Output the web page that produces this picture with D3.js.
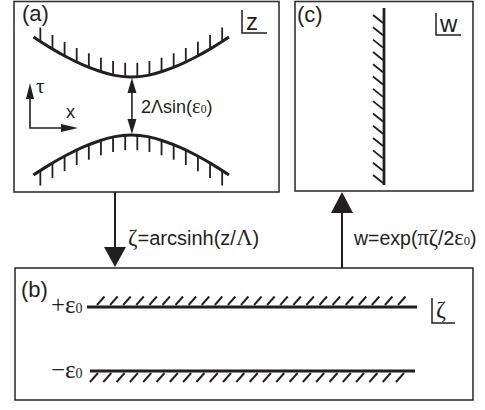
<!DOCTYPE html>
<html><head><meta charset="utf-8">
<script src="https://cdn.jsdelivr.net/npm/d3@7"></script>
<style>body{margin:0;background:#fff}svg{display:block}</style>
</head><body>
<script>
// ---- data ----
const panelLabels = ["(a)", "(b)", "(c)"];
const planeLabels = ["z", "ζ", "w"];
const mapLabels = [
  [["ζ","serif"],["=arcsinh(z/","sans"],["Λ","serif"],[")","sans"]],
  [["w=exp(","sans"],["πζ","serif"],["/2","sans"],["ε","serif"],["0","sub"],[")","sans"]]
];
const gapLabel = [["2Λsin(","sans"],["ε","serif"],["0","sub"],[")","sans"]];
// upper boundary curve in z-plane (x, τ)
const upperCurve = [[-1,1],[-0.83,0.846],[-0.66,0.71],[-0.5,0.60],[-0.33,0.507],[-0.17,0.444],[0,0.42],
                    [0.17,0.444],[0.33,0.507],[0.5,0.60],[0.66,0.71],[0.83,0.846],[1,1]];
const lowerCurve = upperCurve.map(d => [d[0], -d[1]]);
const curveTickCount = [16, 16];
const stripLevels = [1, -1];           // +ε0, -ε0
const stripLabels = ["+", "−"];
const stripHatchCount = [24, 24];
const wallHatchCount = 14;

const W = 485, H = 410;
const svg = d3.select("body").append("svg").attr("width", W).attr("height", H);
const ink = "#231f20", boxInk = "#333";
const SANS = "'Liberation Sans', Arial, sans-serif";
const SERIF = "'Liberation Serif', 'Times New Roman', serif";

// boxes
const boxes = [
  {x0:14, y0:1.5, x1:279, y1:192},
  {x0:15, y0:268, x1:473, y1:400},
  {x0:295, y0:1.5, x1:473, y1:191}
];
svg.selectAll("rect.box").data(boxes).enter().append("rect")
  .attr("x", d => d.x0).attr("y", d => d.y0)
  .attr("width", d => d.x1 - d.x0).attr("height", d => d.y1 - d.y0)
  .attr("fill", "none").attr("stroke", boxInk).attr("stroke-width", 1.6);

// panel labels
const plPos = [[22, 21], [21, 297], [297, 22]];
svg.selectAll("text.pl").data(panelLabels).enter().append("text")
  .attr("x", (d,i) => plPos[i][0]).attr("y", (d,i) => plPos[i][1])
  .attr("font-family", SANS).attr("font-size", 22).attr("fill", ink).text(d => d);

// plane corner labels
const cornerPos = [[242, 10, 33, 267], [432, 298, 323, 455], [436, 13, 35, 461]];
planeLabels.forEach((lab, i) => {
  const [x, ya, yb, x2] = cornerPos[i];
  svg.append("path").attr("d", `M${x},${ya}V${yb}H${x2}`).attr("fill","none")
    .attr("stroke", ink).attr("stroke-width", 1.5);
  svg.append("text").attr("x", x + 4).attr("y", yb - (i===1 ? 6 : 3))
    .attr("font-family", i===1 ? SERIF : SANS).attr("font-size", 24)
    .attr("fill", ink).text(lab);
});

function richText(parent, x, y, parts, size) {
  const t = parent.append("text").attr("x", x).attr("y", y).attr("font-size", size).attr("fill", ink);
  parts.forEach(([s, f]) => {
    const ts = t.append("tspan").text(s);
    if (f === "serif") ts.attr("font-family", SERIF).attr("font-size", size * 1.15);
    else if (f === "sub") ts.attr("font-family", SERIF).attr("font-size", size * 0.65);
    else ts.attr("font-family", SANS);
  });
  return t;
}
function tri(tip, dir, len, hw) {
  const [tx, ty] = tip, [dx, dy] = dir;
  const bx = tx - dx*len, by = ty - dy*len;
  return `M${tx},${ty}L${bx - dy*hw},${by + dx*hw}L${bx + dy*hw},${by - dx*hw}Z`;
}

// ---- panel (a) ----
const xA = d3.scaleLinear().domain([-1, 1]).range([33.5, 229]);
const yA = d3.scaleLinear().domain([-1, 1]).range([175, 37]);
const lineA = d3.line().x(d => xA(d[0])).y(d => yA(d[1])).curve(d3.curveNatural);
function yAtX(node, x) {
  const L = node.getTotalLength();
  let lo = 0, hi = L;
  for (let k = 0; k < 40; k++) {
    const m = (lo + hi) / 2;
    if (node.getPointAtLength(m).x < x) lo = m; else hi = m;
  }
  return node.getPointAtLength(lo).y;
}
[upperCurve, lowerCurve].forEach((curve, ci) => {
  const p = svg.append("path").datum(curve).attr("d", lineA)
    .attr("fill", "none").attr("stroke", ink).attr("stroke-width", 3);
  const node = p.node();
  const n = curveTickCount[ci];
  const tx = d3.scaleLinear().domain([0, n - 1]).range([-0.93, 0.93]);
  d3.range(n).forEach(k => {
    const x = xA(tx(k)), y = yAtX(node, x);
    svg.append("line").attr("x1", x).attr("x2", x).attr("y1", y)
      .attr("y2", ci === 0 ? y - 14 : y + 15)
      .attr("stroke", ink).attr("stroke-width", 1.8);
  });
});
// gap double arrow
{
  const x = xA(0) + 0.7, yt = yA(upperCurve[6][1]) + 1, yb = yA(lowerCurve[6][1]) - 1;
  svg.append("line").attr("x1", x).attr("x2", x).attr("y1", yt + 8).attr("y2", yb - 8)
    .attr("stroke", ink).attr("stroke-width", 1.6);
  svg.append("path").attr("d", tri([x, yt], [0, -1], 15, 4.5)).attr("fill", ink);
  svg.append("path").attr("d", tri([x, yb], [0, 1], 15, 4.5)).attr("fill", ink);
  richText(svg, 141, 113, gapLabel, 18);
}
// τ / x axes
svg.append("path").attr("d", "M30,92V128H68").attr("fill","none").attr("stroke", ink).attr("stroke-width", 1.6);
svg.append("path").attr("d", tri([30, 83], [0, -1], 16, 4)).attr("fill", ink);
svg.append("path").attr("d", tri([78, 128], [1, 0], 17, 4)).attr("fill", ink);
svg.append("text").attr("x", 36).attr("y", 93).attr("font-family", SERIF).attr("font-size", 21).attr("fill", ink).text("τ");
svg.append("text").attr("x", 66).attr("y", 118).attr("font-family", SANS).attr("font-size", 18).attr("fill", ink).text("x");

// ---- mapping arrows ----
svg.append("line").attr("x1", 115).attr("x2", 115).attr("y1", 192).attr("y2", 252).attr("stroke", ink).attr("stroke-width", 2);
svg.append("path").attr("d", tri([115, 267], [0, 1], 20, 11)).attr("fill", ink);
richText(svg, 128, 245, mapLabels[0], 20);
svg.append("line").attr("x1", 342).attr("x2", 342).attr("y1", 268).attr("y2", 208).attr("stroke", ink).attr("stroke-width", 2);
svg.append("path").attr("d", tri([342, 192], [0, -1], 21, 11)).attr("fill", ink);
richText(svg, 354, 245, mapLabels[1], 19.5);

// ---- panel (b) ----
const yB = d3.scaleLinear().domain([-1, 1]).range([371, 307]);
const lineExt = [[87, 417], [90, 415]];
const hatchExt = [[97, 398], [90, 396]];
stripLevels.forEach((lv, i) => {
  const y = yB(lv);
  svg.append("line").attr("x1", lineExt[i][0]).attr("x2", lineExt[i][1]).attr("y1", y).attr("y2", y)
    .attr("stroke", ink).attr("stroke-width", 2.8);
  const n = stripHatchCount[i];
  const hx = d3.scaleLinear().domain([0, n - 1]).range(hatchExt[i]);
  d3.range(n).forEach(k => {
    const x = hx(k);
    const l = svg.append("line").attr("stroke", ink).attr("stroke-width", 1.9);
    if (i === 0) l.attr("x1", x).attr("y1", y - 2).attr("x2", x + 7.5).attr("y2", y - 10.5);
    else l.attr("x1", x).attr("y1", y + 11).attr("x2", x + 8).attr("y2", y + 2);
  });
  const t = svg.append("text").attr("x", 51).attr("y", i === 0 ? 313 : 378)
    .attr("font-family", SERIF).attr("font-size", 25).attr("fill", ink);
  t.append("tspan").text(stripLabels[i] + "ε");
  t.append("tspan").attr("font-size", 14).text("0");
});

// ---- panel (c) ----
svg.append("line").attr("x1", 384).attr("x2", 384).attr("y1", 8).attr("y2", 185)
  .attr("stroke", ink).attr("stroke-width", 2.8);
const hy = d3.scaleLinear().domain([0, wallHatchCount - 1]).range([15, 175]);
d3.range(wallHatchCount).forEach(k => {
  const y = hy(k);
  svg.append("line").attr("x1", 373).attr("y1", y).attr("x2", 383).attr("y2", y + 8)
    .attr("stroke", ink).attr("stroke-width", 1.8);
});
</script>
</body></html>
